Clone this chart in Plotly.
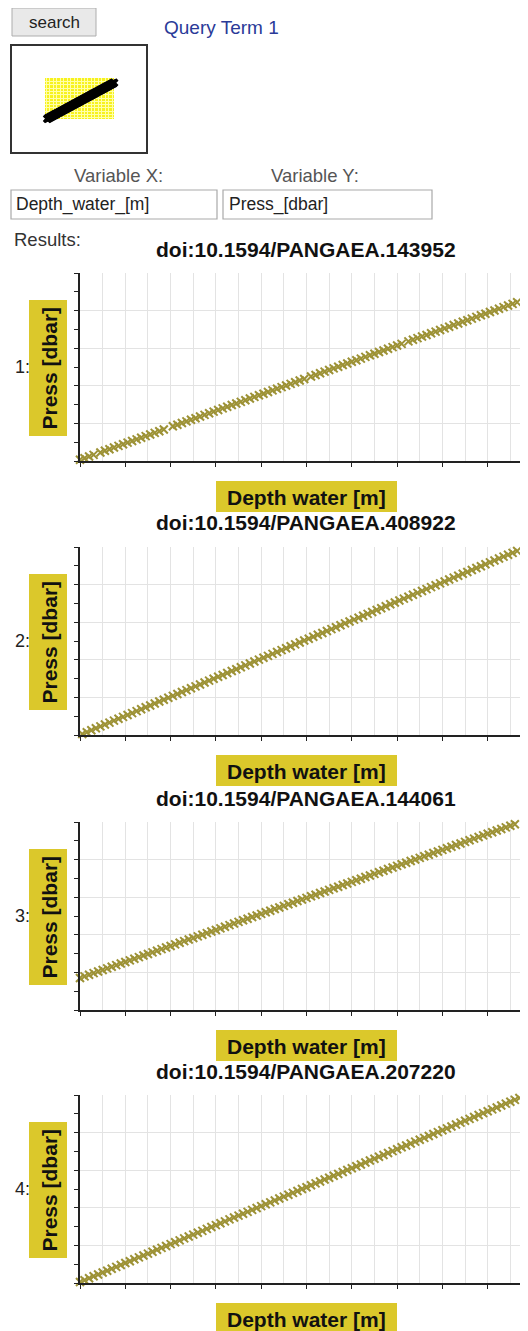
import plotly.graph_objects as go

# ---------------- data ----------------
titles = ["doi:10.1594/PANGAEA.143952", "doi:10.1594/PANGAEA.408922",
          "doi:10.1594/PANGAEA.144061", "doi:10.1594/PANGAEA.207220"]
x_title = "Depth water [m]"
y_title = "Press [dbar]"
var_x = "Depth_water_[m]"
var_y = "Press_[dbar]"

depth_1 = [0, 2, 4, 6, 9, 11, 13, 15, 17, 19, 21, 23, 25, 27, 29, 31, 33, 35, 37, 41, 43, 45, 47, 49,
           51, 53, 55, 57, 59, 61, 63, 65, 67, 69, 71, 73, 75, 77, 79, 81, 83, 85, 87, 89, 91, 93, 95,
           97, 99, 102, 104, 106, 108, 110, 112, 114, 116, 118, 120, 122, 124, 126, 128, 130, 132, 134,
           136, 138, 140, 142, 145, 147, 149, 151, 153, 155, 157, 159, 161, 163, 165, 167, 169, 171,
           173, 175, 177, 179, 181, 183, 185, 187, 189, 191, 193]
press_1 = [0.0, 2.0, 4.0, 6.1, 9.1, 11.1, 13.1, 15.2, 17.2, 19.2, 21.2, 23.2, 25.3, 27.3, 29.3, 31.3,
           33.3, 35.4, 37.4, 41.4, 43.4, 45.5, 47.5, 49.5, 51.5, 53.5, 55.6, 57.6, 59.6, 61.6, 63.6,
           65.7, 67.7, 69.7, 71.7, 73.7, 75.8, 77.8, 79.8, 81.8, 83.8, 85.9, 87.9, 89.9, 91.9, 93.9,
           96.0, 98.0, 100.0, 103.0, 105.0, 107.1, 109.1, 111.1, 113.1, 115.1, 117.2, 119.2, 121.2,
           123.2, 125.2, 127.3, 129.3, 131.3, 133.3, 135.3, 137.4, 139.4, 141.4, 143.4, 146.5, 148.5,
           150.5, 152.5, 154.5, 156.6, 158.6, 160.6, 162.6, 164.6, 166.7, 168.7, 170.7, 172.7, 174.7,
           176.8, 178.8, 180.8, 182.8, 184.8, 186.9, 188.9, 190.9, 192.9, 194.9]

depth_2 = [1, 3, 5, 7, 9, 11, 13, 15, 17, 19, 21, 23, 25, 27, 29, 31, 33, 35, 37, 39, 41, 43, 45, 47,
           49, 51, 53, 55, 57, 59, 61, 63, 65, 67, 69, 71, 73, 75, 77, 79, 81, 83, 85, 87, 89, 91, 93,
           95, 97, 99, 101, 103, 105, 107, 109, 111, 113, 115, 117, 119, 121, 123, 125, 127, 129, 131,
           133, 135, 137, 139, 141, 143, 145, 147, 149, 151, 153, 155, 157, 159, 161, 163, 165, 167,
           169, 171, 173, 175, 177, 179, 181, 183, 185, 187, 189, 191, 193]
press_2 = [1.0, 3.0, 5.1, 7.1, 9.1, 11.1, 13.1, 15.2, 17.2, 19.2, 21.2, 23.2, 25.3, 27.3, 29.3, 31.3,
           33.3, 35.4, 37.4, 39.4, 41.4, 43.4, 45.5, 47.5, 49.5, 51.5, 53.5, 55.6, 57.6, 59.6, 61.6,
           63.6, 65.7, 67.7, 69.7, 71.7, 73.7, 75.8, 77.8, 79.8, 81.8, 83.8, 85.9, 87.9, 89.9, 91.9,
           93.9, 96.0, 98.0, 100.0, 102.0, 104.0, 106.1, 108.1, 110.1, 112.1, 114.1, 116.2, 118.2,
           120.2, 122.2, 124.2, 126.3, 128.3, 130.3, 132.3, 134.3, 136.4, 138.4, 140.4, 142.4, 144.4,
           146.5, 148.5, 150.5, 152.5, 154.5, 156.6, 158.6, 160.6, 162.6, 164.6, 166.7, 168.7, 170.7,
           172.7, 174.7, 176.8, 178.8, 180.8, 182.8, 184.8, 186.9, 188.9, 190.9, 192.9, 194.9]

depth_3 = [40, 42, 44, 46, 48, 50, 52, 54, 56, 58, 60, 62, 64, 66, 68, 70, 72, 74, 76, 78, 80, 82, 84,
           86, 88, 90, 92, 94, 96, 98, 100, 102, 104, 106, 108, 110, 112, 114, 116, 118, 120, 122, 124,
           126, 128, 130, 132, 134, 136, 138, 140, 142, 144, 146, 148, 150, 152, 154, 156, 158, 160,
           162, 164, 166, 168, 170, 172, 174, 176, 178, 180, 182, 184, 186, 188, 190, 192, 194, 196,
           198, 200, 202, 204, 206, 208, 210, 212, 214, 216, 218, 220, 222, 224, 226, 228, 230, 232]
press_3 = [40.4, 42.4, 44.4, 46.5, 48.5, 50.5, 52.5, 54.5, 56.6, 58.6, 60.6, 62.6, 64.6, 66.7, 68.7,
           70.7, 72.7, 74.7, 76.8, 78.8, 80.8, 82.8, 84.8, 86.9, 88.9, 90.9, 92.9, 94.9, 97.0, 99.0,
           101.0, 103.0, 105.0, 107.1, 109.1, 111.1, 113.1, 115.1, 117.2, 119.2, 121.2, 123.2, 125.2,
           127.3, 129.3, 131.3, 133.3, 135.3, 137.4, 139.4, 141.4, 143.4, 145.4, 147.5, 149.5, 151.5,
           153.5, 155.5, 157.6, 159.6, 161.6, 163.6, 165.6, 167.7, 169.7, 171.7, 173.7, 175.7, 177.8,
           179.8, 181.8, 183.8, 185.8, 187.9, 189.9, 191.9, 193.9, 195.9, 198.0, 200.0, 202.0, 204.0,
           206.0, 208.1, 210.1, 212.1, 214.1, 216.2, 218.2, 220.2, 222.2, 224.2, 226.3, 228.3, 230.3,
           232.3, 234.3]

depth_4 = [0, 2, 4, 6, 8, 10, 12, 14, 16, 18, 20, 22, 24, 26, 28, 30, 32, 34, 36, 38, 40, 42, 44, 46,
           48, 50, 52, 54, 56, 58, 60, 62, 64, 66, 68, 70, 72, 74, 76, 78, 80, 82, 84, 86, 88, 90, 92,
           94, 96, 98, 100, 102, 104, 106, 108, 110, 112, 114, 116, 118, 120, 122, 124, 126, 128, 130,
           132, 134, 136, 138, 140, 142, 144, 146, 148, 150, 152, 154, 156, 158, 160, 162, 164, 166,
           168, 170, 172, 174, 176, 178, 180, 182, 184, 186, 188, 190, 192, 194]
press_4 = [0.0, 2.0, 4.0, 6.1, 8.1, 10.1, 12.1, 14.1, 16.2, 18.2, 20.2, 22.2, 24.2, 26.3, 28.3, 30.3,
           32.3, 34.3, 36.4, 38.4, 40.4, 42.4, 44.4, 46.5, 48.5, 50.5, 52.5, 54.5, 56.6, 58.6, 60.6,
           62.6, 64.6, 66.7, 68.7, 70.7, 72.7, 74.7, 76.8, 78.8, 80.8, 82.8, 84.8, 86.9, 88.9, 90.9,
           92.9, 94.9, 97.0, 99.0, 101.0, 103.0, 105.0, 107.1, 109.1, 111.1, 113.1, 115.1, 117.2,
           119.2, 121.2, 123.2, 125.2, 127.3, 129.3, 131.3, 133.3, 135.3, 137.4, 139.4, 141.4, 143.4,
           145.4, 147.5, 149.5, 151.5, 153.5, 155.5, 157.6, 159.6, 161.6, 163.6, 165.6, 167.7, 169.7,
           171.7, 173.7, 175.7, 177.8, 179.8, 181.8, 183.8, 185.8, 187.9, 189.9, 191.9, 193.9, 195.9]

depths = [depth_1, depth_2, depth_3, depth_4]
pressures = [press_1, press_2, press_3, press_4]

# axis ranges (layout)
x_ranges = [(0, 197.8), (0, 197.8), (40, 237.8), (0, 197.8)]
y_ranges = [(-1.5, 231.0), (0, 199.0), (0, 237.0), (-1.0, 199.0)]

# ---------------- layout helpers ----------------
# the page body has an 8px margin, so the figure is placed at (8, 8)
OFF = 8
W, H = 528 - OFF, 1331 - OFF
FONT = "Liberation Sans, Arial, sans-serif"
YELLOW = "#dbc82b"
MARK = "#9d9236"
GRID = "#e3e3e3"
AXC = "#222222"


def px(x):
    return (x - OFF) / W


def py(y):
    return 1 - (y - OFF) / H


tops = [273, 547, 822, 1095]
PH = 188
LEFT = 80

fig = go.Figure()
shapes = []
annotations = []

for i in range(4):
    n = i + 1
    top = tops[i]
    xa = "x" if n == 1 else f"x{n}"
    ya = "y" if n == 1 else f"y{n}"
    fig.add_trace(go.Scatter(
        x=depths[i], y=pressures[i], mode="markers", xaxis=xa, yaxis=ya,
        marker=dict(symbol="x-thin", size=8, line=dict(width=2, color=MARK), color=MARK),
        cliponaxis=False, showlegend=False, hoverinfo="skip"))
    y0, y1 = y_ranges[i]
    span = y1 - y0
    fig.update_layout(**{
        f"xaxis{'' if n == 1 else n}": dict(
            domain=[px(LEFT), 1.0], anchor=ya, range=list(x_ranges[i]),
            showgrid=True, gridcolor=GRID, gridwidth=1, tick0=0, dtick=20,
            ticks="outside", ticklen=4, tickcolor=AXC, tickwidth=1.2,
            showticklabels=False, showline=True, linecolor=AXC, linewidth=1.6,
            zeroline=False, fixedrange=True,
            minor=dict(tick0=0, dtick=10, showgrid=True, gridcolor=GRID, gridwidth=1, ticks=""),
        ),
        f"yaxis{'' if n == 1 else n}": dict(
            domain=[py(top + PH), py(top)], anchor=xa, range=[y0, y1 + span * 0.0005],
            showgrid=True, gridcolor=GRID, gridwidth=1, tick0=y0, dtick=span / 5,
            ticks="outside", ticklen=4, tickcolor=AXC, tickwidth=1.2,
            showticklabels=False, showline=True, linecolor=AXC, linewidth=1.6,
            zeroline=False, fixedrange=True,
            minor=dict(tick0=y0, dtick=span / 10, ticks="outside", ticklen=4,
                       tickcolor=AXC, tickwidth=1.2, showgrid=False),
        ),
    })
    # chart title
    annotations.append(dict(text=titles[i], x=px(306), y=py(top - 24), xref="paper", yref="paper",
                            showarrow=False, xanchor="center", yanchor="middle",
                            font=dict(family=FONT, size=21, color="#111111", weight="bold")))
    # x-title box
    shapes.append(dict(type="rect", xref="paper", yref="paper", x0=px(216), x1=px(397),
                       y0=py(top + 239), y1=py(top + 208), fillcolor=YELLOW, line=dict(width=0),
                       layer="above"))
    annotations.append(dict(text=x_title, x=px(306.5), y=py(top + 224), xref="paper", yref="paper",
                            showarrow=False, xanchor="center", yanchor="middle",
                            font=dict(family=FONT, size=21, color="#111111", weight="bold")))
    # y-title box
    shapes.append(dict(type="rect", xref="paper", yref="paper", x0=px(29), x1=px(67),
                       y0=py(top + 163), y1=py(top + 27), fillcolor=YELLOW, line=dict(width=0),
                       layer="above"))
    annotations.append(dict(text=y_title, x=px(48.5), y=py(top + 95), xref="paper", yref="paper",
                            showarrow=False, xanchor="center", yanchor="middle", textangle=-90,
                            font=dict(family=FONT, size=21, color="#111111", weight="bold")))
    # row label
    annotations.append(dict(text=f"{n}:", x=px(14), y=py(top + 94), xref="paper", yref="paper",
                            showarrow=False, xanchor="left", yanchor="middle", borderpad=0,
                            font=dict(family=FONT, size=18, color="#222222")))

# ---------------- thumbnail ----------------
fig.add_trace(go.Scatter(
    x=depth_1, y=press_1, mode="lines+markers", xaxis="x5", yaxis="y5",
    line=dict(color="#000000", width=5), marker=dict(symbol="x", size=8, color="#000000"),
    cliponaxis=False, showlegend=False, hoverinfo="skip"))
fig.update_layout(
    xaxis5=dict(domain=[px(45), px(114)], anchor="y5", range=[5, 185], showgrid=True,
                gridcolor="#ffffa8", dtick=9, showticklabels=False, ticks="", zeroline=False,
                showline=False, fixedrange=True),
    yaxis5=dict(domain=[py(119), py(78)], anchor="x5", range=[10, 210], showgrid=True,
                gridcolor="#ffffa8", dtick=16, showticklabels=False, ticks="", zeroline=False,
                showline=False, fixedrange=True),
)
shapes.append(dict(type="rect", xref="paper", yref="paper", x0=px(45), x1=px(114),
                   y0=py(119), y1=py(78), fillcolor="#f7f21e", line=dict(width=0), layer="below"))
shapes.append(dict(type="rect", xref="paper", yref="paper", x0=px(11), x1=px(147),
                   y0=py(153), y1=py(45), line=dict(color="#333333", width=2), layer="above"))

# ---------------- top controls ----------------
shapes.append(dict(type="rect", xref="paper", yref="paper", x0=px(12), x1=px(96),
                   y0=py(36), y1=py(8), fillcolor="#e9e9e9", line=dict(color="#adadad", width=1)))
annotations.append(dict(text="search", x=px(54), y=py(22), xref="paper", yref="paper",
                        showarrow=False, xanchor="center", yanchor="middle",
                        font=dict(family=FONT, size=17, color="#222222")))
annotations.append(dict(text="Query Term 1", x=px(163), y=py(28), xref="paper", yref="paper",
                        showarrow=False, xanchor="left", yanchor="middle", borderpad=0,
                        font=dict(family=FONT, size=19, color="#2a3a98")))
annotations.append(dict(text="Variable X:", x=px(118), y=py(175), xref="paper", yref="paper",
                        showarrow=False, xanchor="center", yanchor="middle",
                        font=dict(family=FONT, size=18.5, color="#555555")))
annotations.append(dict(text="Variable Y:", x=px(315), y=py(175), xref="paper", yref="paper",
                        showarrow=False, xanchor="center", yanchor="middle",
                        font=dict(family=FONT, size=18.5, color="#555555")))
shapes.append(dict(type="rect", xref="paper", yref="paper", x0=px(11), x1=px(217),
                   y0=py(219), y1=py(190), fillcolor="#ffffff", line=dict(color="#a9a9a9", width=1.2)))
shapes.append(dict(type="rect", xref="paper", yref="paper", x0=px(223), x1=px(432),
                   y0=py(219), y1=py(190), fillcolor="#ffffff", line=dict(color="#a9a9a9", width=1.2)))
annotations.append(dict(text=var_x, x=px(15), y=py(205), xref="paper", yref="paper",
                        showarrow=False, xanchor="left", yanchor="middle", borderpad=0,
                        font=dict(family=FONT, size=17.5, color="#222222")))
annotations.append(dict(text=var_y, x=px(228), y=py(205), xref="paper", yref="paper",
                        showarrow=False, xanchor="left", yanchor="middle", borderpad=0,
                        font=dict(family=FONT, size=17.5, color="#222222")))
annotations.append(dict(text="Results:", x=px(13), y=py(239), xref="paper", yref="paper",
                        showarrow=False, xanchor="left", yanchor="middle", borderpad=0,
                        font=dict(family=FONT, size=18.5, color="#333333")))

fig.update_layout(
    width=W, height=H, margin=dict(l=0, r=0, t=0, b=0),
    paper_bgcolor="#ffffff", plot_bgcolor="rgba(0,0,0,0)",
    shapes=shapes, annotations=annotations, showlegend=False,
    font=dict(family=FONT),
)

fig.write_html("out.html", config={"displayModeBar": False, "responsive": False})
